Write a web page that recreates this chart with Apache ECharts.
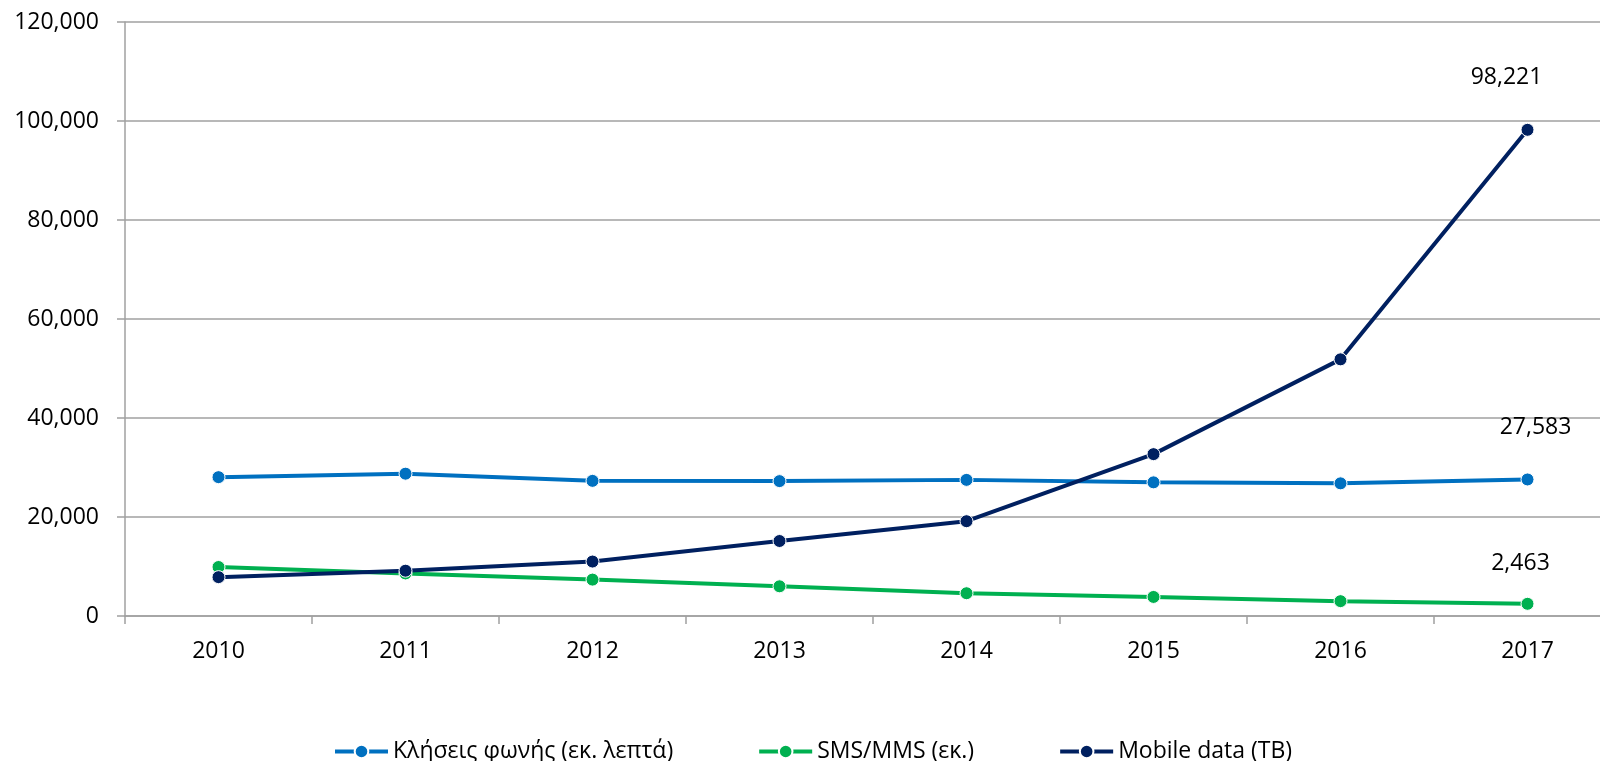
<!DOCTYPE html>
<html>
    <head>
        <meta charset='utf-8'>
        <script src="https://cdn.jsdelivr.net/npm/echarts@6/dist/echarts.min.js"></script>
    </head>
    <body>
        <style>
            html, body, #main {
                margin: 0;
                width: 100%;
                height: 100%;
            }
        </style>
        <div id="main"></div>
        <script>

            var years = ['2010', '2011', '2012', '2013', '2014', '2015', '2016', '2017'];
            var voice = [28050, 28750, 27300, 27250, 27500, 27000, 26800, 27583];
            var sms = [9900, 8600, 7350, 6000, 4600, 3850, 3000, 2463];
            var mobileData = [7850, 9150, 11000, 15150, 19150, 32700, 51850, 98221];

            var seriesNames = ['Κλήσεις φωνής (εκ. λεπτά)', 'SMS/MMS (εκ.)', 'Mobile data (TB)'];
            var colors = ['#0070C0', '#00B050', '#002060'];
            var lastLabelOffsets = [[8, -52], [-7, -40], [-21, -52]];

            var fontFamily = '"Open Sans", sans-serif';

            function fmt(v) {
                return Number(v).toLocaleString('en-US');
            }

            // only the 2017 point carries a data label
            function withLastLabel(values, offset) {
                return values.map(function (v, i) {
                    if (i !== values.length - 1) {
                        return v;
                    }
                    return {
                        value: v,
                        label: {
                            show: true,
                            position: 'inside',
                            offset: offset,
                            formatter: function (p) { return fmt(p.value); },
                            color: '#000',
                            fontSize: 23,
                            fontFamily: fontFamily
                        }
                    };
                });
            }

            var chart = echarts.init(document.getElementById('main'));

            var series = [voice, sms, mobileData].map(function (values, k) {
                return {
                    name: seriesNames[k],
                    type: 'line',
                    data: withLastLabel(values, lastLabelOffsets[k]),
                    symbol: 'circle',
                    symbolSize: 13,
                    lineStyle: {
                        color: colors[k],
                        width: 4
                    },
                    itemStyle: {
                        color: colors[k],
                        borderColor: '#fff',
                        borderWidth: 1
                    },
                    emphasis: { disabled: true }
                };
            });

            chart.setOption({
                animation: false,
                textStyle: {
                    fontFamily: fontFamily
                },
                grid: {
                    left: 125,
                    top: 22,
                    width: 1496,
                    height: 594,
                    outerBoundsMode: 'none'
                },
                legend: {
                    left: 328,
                    top: 735,
                    itemWidth: 53,
                    itemHeight: 17,
                    itemGap: 84,
                    lineStyle: { width: 4 },
                    textStyle: {
                        color: '#000',
                        fontSize: 23,
                        fontFamily: fontFamily
                    },
                    data: seriesNames
                },
                xAxis: {
                    type: 'category',
                    data: years,
                    boundaryGap: true,
                    axisLine: {
                        lineStyle: { color: '#a0a0a0', width: 1.5 }
                    },
                    axisTick: {
                        show: true,
                        length: 8,
                        lineStyle: { color: '#a0a0a0', width: 1.5 }
                    },
                    axisLabel: {
                        color: '#000',
                        fontSize: 23,
                        margin: 24
                    },
                    splitLine: { show: false }
                },
                yAxis: {
                    type: 'value',
                    min: 0,
                    max: 120000,
                    interval: 20000,
                    axisLine: {
                        show: true,
                        lineStyle: { color: '#a0a0a0', width: 1.5 }
                    },
                    axisTick: {
                        show: true,
                        length: 8,
                        lineStyle: { color: '#a0a0a0', width: 1.5 }
                    },
                    axisLabel: {
                        color: '#000',
                        fontSize: 23,
                        margin: 26,
                        formatter: fmt
                    },
                    splitLine: {
                        lineStyle: { color: '#a0a0a0', width: 1.5 }
                    }
                },
                series: series
            });
        </script>
    </body>
</html>
